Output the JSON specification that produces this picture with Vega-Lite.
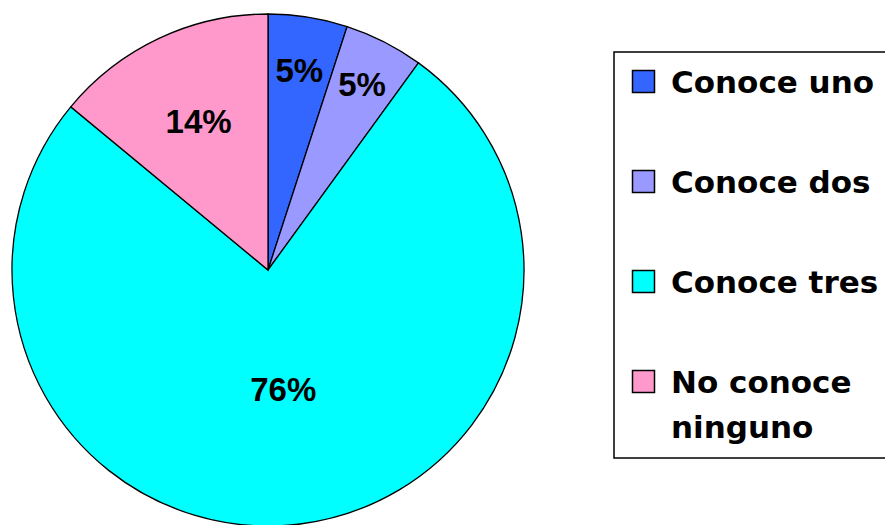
{
  "$schema": "https://vega.github.io/schema/vega-lite/v6.json",
  "width": 885,
  "height": 525,
  "autosize": "none",
  "padding": 0,
  "background": "white",
  "config": {"view": {"stroke": null}},
  "data": {
    "values": [
      {"categoria": "Conoce uno", "porcentaje": 5, "etiqueta": "5%", "orden": 1},
      {"categoria": "Conoce dos", "porcentaje": 5, "etiqueta": "5%", "orden": 2},
      {"categoria": "Conoce tres", "porcentaje": 76, "etiqueta": "76%", "orden": 3},
      {"categoria": "No conoce ninguno", "porcentaje": 14, "etiqueta": "14%", "orden": 4}
    ]
  },
  "encoding": {
    "theta": {"field": "porcentaje", "type": "quantitative", "stack": true},
    "order": {"field": "orden", "type": "quantitative"},
    "x": {"value": 268},
    "y": {"value": 270}
  },
  "layer": [
    {
      "mark": {"type": "arc", "outerRadius": 256, "stroke": "black", "strokeWidth": 1.3},
      "encoding": {
        "color": {
          "field": "categoria",
          "type": "nominal",
          "sort": ["Conoce uno", "Conoce dos", "Conoce tres", "No conoce ninguno"],
          "scale": {
            "domain": ["Conoce uno", "Conoce dos", "Conoce tres", "No conoce ninguno"],
            "range": ["#3366FF", "#9999FF", "#00FFFF", "#FF99CC"]
          },
          "legend": {
            "orient": "none",
            "legendX": 614,
            "legendY": 52,
            "title": null,
            "symbolType": "square",
            "symbolSize": 484,
            "symbolStrokeColor": "black",
            "symbolOpacity": 1,
            "labelFont": "DejaVu Sans",
            "labelFontWeight": "bold",
            "labelFontSize": 31,
            "labelColor": "black",
            "labelLimit": 400,
            "labelOffset": 12,
            "labelBaseline": "alphabetic",
            "rowPadding": 67,
            "padding": 14,
            "strokeColor": "black",
            "labelExpr": "datum.label == 'No conoce ninguno' ? ['No conoce', 'ninguno'] : datum.label",
            "encode": {
              "labels": {"update": {"dy": {"value": 11}, "lineHeight": {"value": 45}}},
              "symbols": {"update": {"stroke": {"value": "black"}, "strokeWidth": {"value": 1.5}}},
              "legend": {"update": {"stroke": {"value": "black"}, "strokeWidth": {"value": 1.5}}}
            }
          }
        }
      }
    },
    {
      "mark": {
        "type": "text",
        "radius": {"expr": "datum.categoria == 'Conoce tres' ? 122 : datum.categoria == 'No conoce ninguno' ? 163 : datum.categoria == 'Conoce dos' ? 207 : 200"},
        "font": "Liberation Sans",
        "fontWeight": "bold",
        "fontSize": 33,
        "color": "black"
      },
      "encoding": {"text": {"field": "etiqueta", "type": "nominal"}}
    }
  ]
}
